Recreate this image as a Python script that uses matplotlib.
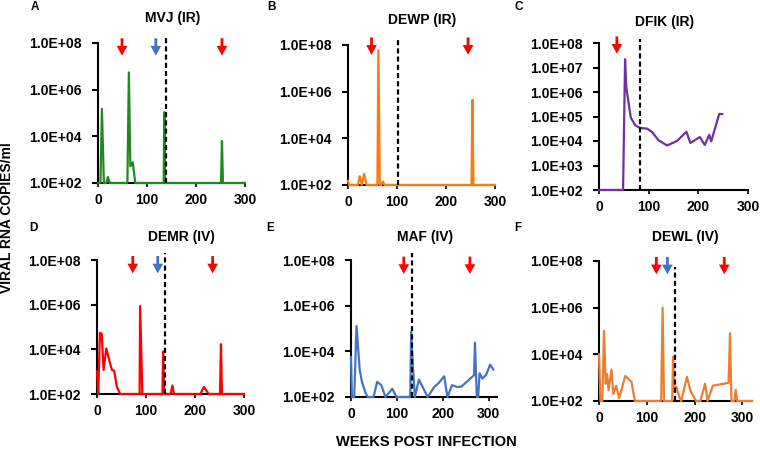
import matplotlib.pyplot as plt
from matplotlib.ticker import FuncFormatter, NullLocator

plt.rcParams['font.family'] = ['Liberation Sans', 'DejaVu Sans']
plt.rcParams['font.weight'] = 'bold'

# viral load per animal (weeks post infection, copies/ml)
weeks_mvj = [0, 5, 8, 12, 17, 20, 24, 60, 63, 66, 71, 76, 134, 135.5, 137, 251, 253, 255, 300]
vl_mvj = [1e2, 1e2, 1.5e5, 1e2, 1e2, 180, 1e2, 1e2, 5.5e6, 520, 770, 1e2, 1e2, 1.1e5, 1e2, 1e2, 6.3e3, 1e2, 1e2]

weeks_dewp = [0, 2, 20, 24, 28, 33, 38, 60, 62, 65, 68, 71, 75, 252, 254, 256, 300]
vl_dewp = [150, 1e2, 1e2, 240, 1e2, 300, 1e2, 1e2, 6e7, 1e2, 1e2, 140, 1e2, 1e2, 4.5e5, 1e2, 1e2]

weeks_dfik = [0, 48.5, 52.5, 55, 64, 73, 83, 97, 107, 120, 137, 157, 176, 184, 203, 213, 222, 226, 242, 248]
vl_dfik = [1e2, 1e2, 2.2e7, 1.5e6, 9e4, 4.4e4, 3.4e4, 3.2e4, 2.3e4, 1.07e4, 6.6e3, 1e4, 2.4e4, 8.3e3,
           1.45e4, 6.9e3, 1.8e4, 9.7e3, 1.26e5, 1.26e5]

weeks_demr = [0, 2.5, 6, 9.5, 13.5, 19, 25.7, 30.4, 35, 40.5, 47.3, 87, 88, 92.5, 133.5, 135, 137,
              150, 154, 157, 211, 218, 228, 251, 253, 255, 300]
vl_demr = [1e3, 1e2, 5.5e4, 5e4, 1.2e3, 1.1e4, 2.8e3, 1.2e3, 1.1e3, 210, 1e2, 1e2, 8.7e5, 1e2, 1e2, 7.9e3, 1e2,
           1e2, 240, 1e2, 1e2, 210, 1e2, 1e2, 1.7e4, 1e2, 1e2]

weeks_maf = [0, 2, 7, 12, 19, 24, 31, 36, 49, 57, 66, 75, 90, 99, 129, 131, 135, 139, 148, 167, 181, 191,
             203, 210, 220, 232, 241, 268, 270, 274, 277, 280, 286, 294, 303, 310]
vl_maf = [5.7e3, 1e2, 1e2, 1.3e5, 1.5e3, 450, 165, 1e2, 1e2, 460, 330, 1e2, 230, 1e2, 1e2, 7e4, 2.1e3, 1e2,
          580, 1e2, 270, 410, 810, 1e2, 330, 270, 290, 900, 2.4e4, 1e2, 1e2, 1.1e3, 640, 900, 2.6e3, 1.6e3]

weeks_dewl = [0, 3, 7, 10.5, 14, 17, 20, 26, 30, 36, 42, 55, 68, 75, 130, 133, 136,
              153, 155, 158, 162, 168, 172, 184, 191, 203, 212, 222, 227, 238, 271, 274, 277, 283, 286, 289, 320]
vl_dewl = [1e4, 1e2, 1e2, 1e5, 550, 1.4e3, 290, 2.2e3, 200, 450, 130, 1.2e3, 650, 1e2, 1e2, 1e6, 1e2,
           1e2, 8e3, 250, 400, 150, 1e2, 1.1e3, 280, 1e2, 1e2, 550, 1e2, 450, 600, 8e4, 1e2, 1e2, 300, 1e2, 1e2]

names = ['MVJ (IR)', 'DEWP (IR)', 'DFIK (IR)', 'DEMR (IV)', 'MAF (IV)', 'DEWL (IV)']
letters = ['A', 'B', 'C', 'D', 'E', 'F']
weeks = [weeks_mvj, weeks_dewp, weeks_dfik, weeks_demr, weeks_maf, weeks_dewl]
loads = [vl_mvj, vl_dewp, vl_dfik, vl_demr, vl_maf, vl_dewl]
dashed_week = [138, 102, 83, 138, 133, 158]
red_arrows = [[49, 253], [48, 245], [36], [73, 236], [115, 259], [120, 262]]
blue_arrows = [[118], [], [], [124], [], [143]]
x_max = [300, 300, 300, 300, 318, 320]

colors = ['#1f8a1f', '#ff7a0e', '#7030a0', '#ff0000', '#4472c4', '#ed7d31']

W, H = 760, 449
fig = plt.figure(figsize=(7.6, 4.49), dpi=100)

# axes boxes in pixels: left, top, right, bottom
boxes = [(98, 43, 245, 183), (348, 45, 495, 185), (599, 43, 748, 190),
         (97, 260, 244, 394), (351, 260, 497, 397), (599, 261, 752, 401)]
dash_top = [1.057, 1.057, 1.03, 1.05, 1.05, 0.96]
tip_frac = [0.91, 0.93, 0.927, 0.90, 0.898, 0.905]
title_pos = [(173, 18), (422, 20), (665, 22), (181, 237), (425, 237), (685, 237)]
letter_pos = [(35, 7), (271, 7), (519, 7), (33, 228), (270, 228), (518, 228)]

fmt = FuncFormatter(lambda v, p: "{:.1E}".format(v))

for i in range(6):
    l, t, r, b = boxes[i]
    ax = fig.add_axes([l / W, 1 - b / H, (r - l) / W, (b - t) / H])
    ax.set_yscale('log')
    ax.set_ylim(1e2, 1e8)
    ax.set_xlim(0, x_max[i])
    if i == 2:
        ax.set_yticks([1e2, 1e3, 1e4, 1e5, 1e6, 1e7, 1e8])
    else:
        ax.set_yticks([1e2, 1e4, 1e6, 1e8])
    ax.yaxis.set_major_formatter(fmt)
    ax.yaxis.set_minor_locator(NullLocator())
    ax.set_xticks([0, 100, 200, 300])
    for s in ['top', 'right']:
        ax.spines[s].set_visible(False)
    for s in ['left', 'bottom']:
        ax.spines[s].set_linewidth(1.5)
    ax.tick_params(axis='y', length=4, width=1.5, pad=8, labelsize=10)
    ax.tick_params(axis='x', length=3, width=1.2, pad=4, labelsize=10)

    ax.plot(weeks[i], loads[i], color=colors[i], lw=1.6, zorder=3, clip_on=False)

    xt = ax.get_xaxis_transform()
    ax.plot([dashed_week[i]] * 2, [0, dash_top[i]], transform=xt, color='k', lw=1.6,
            ls=(0, (2.3, 1.4)), clip_on=False, zorder=4)

    for x, c in [(x, '#ff0000') for x in red_arrows[i]] + [(x, '#4472c4') for x in blue_arrows[i]]:
        ax.annotate('', xy=(x, tip_frac[i]), xycoords=xt, xytext=(0, 12.5), textcoords='offset points',
                    arrowprops=dict(width=2, headwidth=7.7, headlength=7, facecolor=c,
                                    edgecolor='none', shrink=0), annotation_clip=False)

    fig.text(title_pos[i][0] / W, 1 - title_pos[i][1] / H, names[i], ha='center', va='center',
             fontsize=10, fontweight='bold')
    fig.text(letter_pos[i][0] / W, 1 - letter_pos[i][1] / H, letters[i], ha='center', va='center',
             fontsize=8.5, fontweight='bold')

fig.text(7 / W, 1 - 218 / H, 'VIRAL RNA COPIES/ml', rotation=90, ha='center', va='center',
         fontsize=10, fontweight='bold')
fig.text(426 / W, 1 - 442 / H, 'WEEKS POST INFECTION', ha='center', va='center',
         fontsize=10.5, fontweight='bold')

fig.savefig('out.png', dpi=100)
